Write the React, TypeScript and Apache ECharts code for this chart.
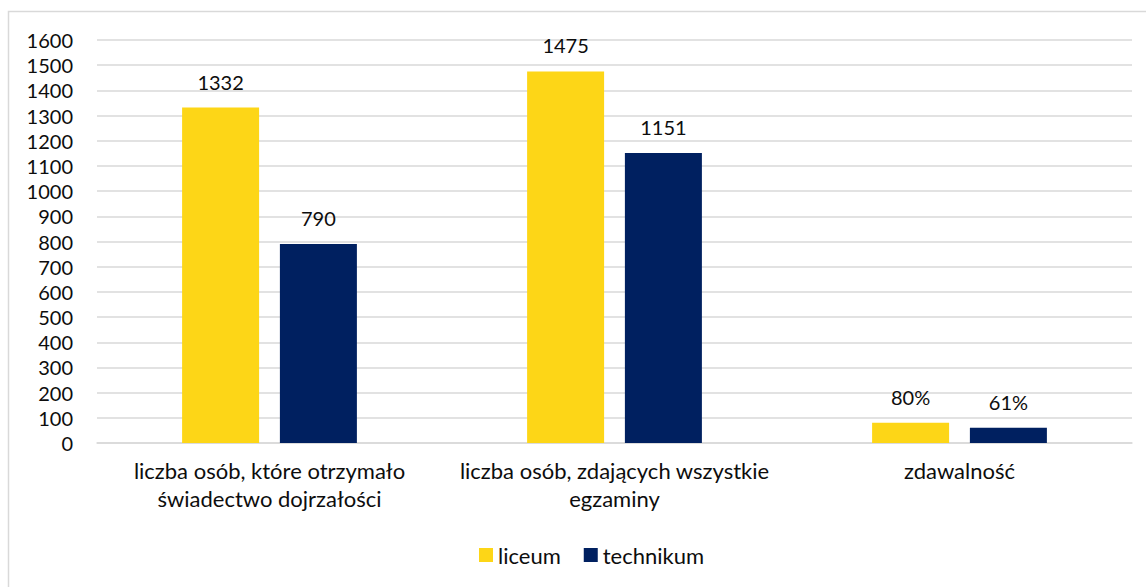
import React, { useEffect, useRef } from "react";
import * as echarts from "echarts";

const categories = [
  "liczba osób, które otrzymało\nświadectwo dojrzałości",
  "liczba osób, zdających wszystkie\negzaminy",
  "zdawalność",
];
const liceumValues = [1332, 1475, 80];
const technikumValues = [790, 1151, 61];
const liceumLabels = ["1332", "1475", "80%"];
const technikumLabels = ["790", "1151", "61%"];
const seriesNames = ["liceum", "technikum"];

const FONT = "Lato, 'Open Sans', sans-serif";
const TEXT = "#0d0d0d";
const FS = 20;

export default function App() {
  const ref = useRef<HTMLDivElement>(null);
  useEffect(() => {
    if (!ref.current) return;
    const chart = echarts.init(ref.current, undefined, { renderer: "svg" });
    chart.setOption({
      animation: false,
      backgroundColor: "#ffffff",
      textStyle: { fontFamily: FONT },
      graphic: [
        {
          type: "rect",
          shape: { x: 8.5, y: 11.5, width: 1160, height: 600 },
          style: { fill: "none", stroke: "#d9d9d9", lineWidth: 1.5 },
          silent: true,
        },
      ],
      grid: { left: 97, right: 14, top: 40, bottom: 144 },
      legend: {
        data: seriesNames,
        left: 474,
        top: 539,
        itemWidth: 14,
        itemHeight: 14,
        itemGap: 23,
        icon: "rect",
        textStyle: { fontSize: 22, color: TEXT, fontFamily: FONT },
      },
      xAxis: {
        type: "category",
        data: categories,
        axisLine: { show: true, lineStyle: { color: "#d9d9d9", width: 1.5 } },
        axisTick: { show: false },
        axisLabel: {
          fontSize: 22,
          color: TEXT,
          margin: 13,
          lineHeight: 28,
          fontFamily: FONT,
          interval: 0,
        },
      },
      yAxis: {
        type: "value",
        min: 0,
        max: 1600,
        interval: 100,
        axisLine: { show: false },
        axisTick: { show: false },
        axisLabel: {
          fontSize: FS,
          lineHeight: 22,
          color: TEXT,
          margin: 24,
          fontFamily: FONT,
          formatter: (v: number) => String(v),
        },
        splitLine: { lineStyle: { color: "#d9d9d9", width: 1.5 } },
      },
      series: [
        {
          name: seriesNames[0],
          type: "bar",
          data: liceumValues,
          barWidth: 77,
          barGap: "27%",
          itemStyle: { color: "#FDD617" },
          label: {
            show: true,
            position: "top",
            distance: 16,
            fontSize: FS,
            color: TEXT,
            fontFamily: FONT,
            formatter: (p: any) => liceumLabels[p.dataIndex],
          },
        },
        {
          name: seriesNames[1],
          type: "bar",
          data: technikumValues,
          barWidth: 77,
          barGap: "27%",
          itemStyle: { color: "#002060" },
          label: {
            show: true,
            position: "top",
            distance: 16,
            fontSize: FS,
            color: TEXT,
            fontFamily: FONT,
            formatter: (p: any) => technikumLabels[p.dataIndex],
          },
        },
      ],
    });
    return () => chart.dispose();
  }, []);
  return (
    <div
      ref={ref}
      style={{ position: "absolute", left: 0, top: 0, width: 1146, height: 587 }}
    />
  );
}
